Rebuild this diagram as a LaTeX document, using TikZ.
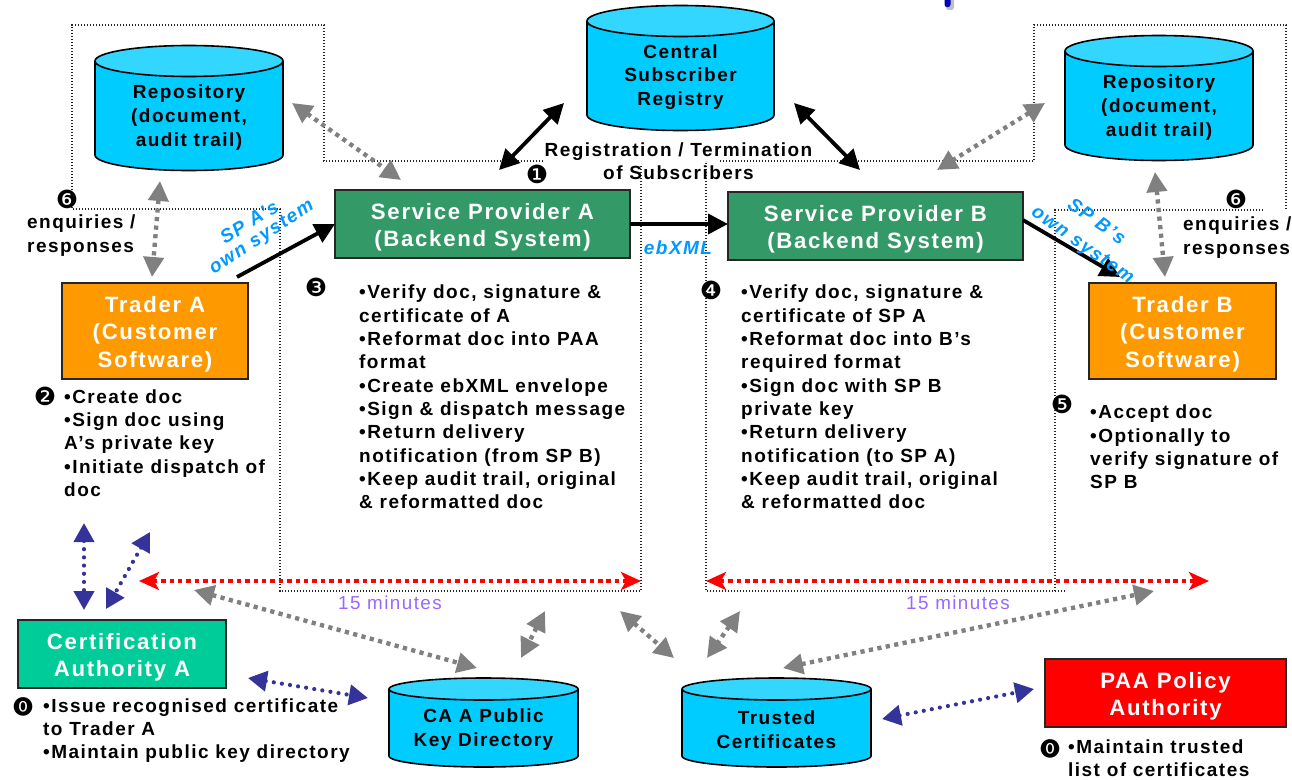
\documentclass[tikz,border=0pt]{standalone}
\usepackage{fontspec}
\setmainfont{Liberation Sans}[LetterSpace=7.7]
\newfontfamily\numfont{DejaVu Sans}
\newfontfamily\zerofont{Noto Sans CJK JP}
\usetikzlibrary{arrows.meta}
\definecolor{cylbody}{HTML}{00CCFF}
\definecolor{cyltop}{HTML}{33D6FF}
\definecolor{spgreen}{HTML}{339966}
\definecolor{traderor}{HTML}{FF9900}
\definecolor{cagreen}{HTML}{00CC99}
\definecolor{linkblue}{HTML}{0099FF}
\definecolor{navy}{HTML}{333399}
\definecolor{lilac}{HTML}{9966FF}
\definecolor{arrgray}{HTML}{808080}
\newcommand{\boxtop}{\rule{0pt}{22pt}}
\tikzset{
  x=1pt,y=-1pt,
  frameline/.style={line width=1.3pt,black!85,dash pattern=on 1.3pt off 1.7pt},
  cylshape/.style={line width=1.6pt,draw=black},
  cyltext/.style={font=\fontsize{19}{23.6}\selectfont\bfseries,align=center,inner sep=0pt,outer sep=0pt},
  boxbase/.style={draw=black!85,line width=1.6pt,inner sep=0pt,outer sep=0pt,align=center,text=white,font=\fontsize{22.2}{27.3}\selectfont\bfseries},
  body/.style={font=\fontsize{19}{23.3}\selectfont\bfseries,align=left,inner sep=0pt,anchor=west},
  marker/.style={font=\fontsize{25}{25}\selectfont\numfont,inner sep=0pt},
  zeromarker/.style={font=\fontsize{20}{20}\selectfont\zerofont,inner sep=0pt},
  sideways/.style={font=\fontsize{19}{23}\selectfont\bfseries\itshape,text=linkblue,inner sep=0pt},
  minutes/.style={font=\fontsize{18.8}{20}\selectfont,text=lilac,inner sep=0pt},
  blackarrow/.style={line width=3.8pt,draw=black},
  blacktwo/.style={blackarrow,{Triangle[length=20pt,width=20pt]}-{Triangle[length=20pt,width=20pt]}},
  blackone/.style={blackarrow,-{Triangle[length=20pt,width=20pt]}},
  grayarrow/.style={draw=arrgray,line width=4.4pt,dash pattern=on 4.2pt off 4.4pt,{Triangle[length=20pt,width=20pt]}-{Triangle[length=20pt,width=20pt]}},
  bluearrow/.style={draw=navy,line width=4.2pt,line cap=round,dash pattern=on 0pt off 8.2pt,{Triangle[length=19pt,width=20pt]}-{Triangle[length=19pt,width=20pt]}},
  redarrow/.style={draw=red,line width=4.2pt,dash pattern=on 4.5pt off 3.9pt,{Stealth[length=20pt,width=18pt,inset=5pt]}-{Stealth[length=20pt,width=18pt,inset=5pt]}},
}
% name, x1, x2, ellipse centre y, body end y, ry, text centre y, text
\newcommand{\cylinderdb}[8]{%
  \pgfmathsetmacro{\cylrx}{(#3-#2)/2}%
  \pgfmathsetmacro{\cylcx}{(#3+#2)/2}%
  \fill[cylbody] (#2,#4) -- (#2,#5) arc[start angle=180,end angle=360,x radius=\cylrx pt,y radius=#6 pt] -- (#3,#4) -- cycle;
  \draw[cylshape,fill=cyltop] (\cylcx,#4) ellipse[x radius=\cylrx pt,y radius=#6 pt];
  \draw[cylshape] (#2,#4) -- (#2,#5) arc[start angle=180,end angle=360,x radius=\cylrx pt,y radius=#6 pt] -- (#3,#4);
  \node[cyltext] (#1) at (\cylcx,#7) {#8};
}
\begin{document}
\begin{tikzpicture}
\useasboundingbox (0,0) rectangle (1292,779);
% stray mark at the top edge
\fill[black!25,rounded corners=2.5pt] (946,-4) rectangle (954,10);
\fill[blue!70!black,rounded corners=2.5pt] (944.5,-4) rectangle (950.5,7);
% dotted system frames
\draw[frameline] (543,161) -- (324,161) -- (324,25) -- (72,25) -- (72,209) -- (280,209) -- (280,591) -- (641,591) -- (641,166);
\draw[frameline] (720,161) -- (1034,161) -- (1034,25) -- (1286,25) -- (1286,210);
\draw[frameline] (1263,210) -- (1055,210) -- (1055,591);
\draw[frameline] (1065,591) -- (706,591) -- (706,161);
% cylinders
\cylinderdb{repoa}{95}{283}{61}{155}{15.5}{117.5}{Repository\\(document,\\audit trail)}
\cylinderdb{central}{587}{774}{21}{115}{15.5}{77}{Central\\Subscriber\\Registry}
\cylinderdb{repob}{1065}{1253}{51}{145}{15.5}{107.5}{Repository\\(document,\\audit trail)}
\cylinderdb{cadir}{389}{578}{689}{756}{11}{729.5}{CA A Public\\Key Directory}
\cylinderdb{trusted}{682}{871}{689}{756}{11}{729.5}{Trusted\\Certificates}
% boxes
\node[boxbase,fill=spgreen,minimum width=295pt,minimum height=68pt] (spa) at (482.5,224) {\boxtop Service Provider A\\(Backend System)};
\node[boxbase,fill=spgreen,minimum width=295pt,minimum height=68pt] (spb) at (875.5,226) {\boxtop Service Provider B\\(Backend System)};
\node[boxbase,fill=traderor,minimum width=186pt,minimum height=96pt] (tra) at (155,331) {\boxtop Trader A\\(Customer\\Software)};
\node[boxbase,fill=traderor,minimum width=187pt,minimum height=96pt] (trb) at (1182.5,331) {\boxtop Trader B\\(Customer\\Software)};
\node[boxbase,fill=cagreen,minimum width=208pt,minimum height=68pt] (caa) at (122,654) {\boxtop Certification\\Authority A};
\node[boxbase,fill=red,minimum width=241pt,minimum height=68pt] (paa) at (1165.5,693) {\boxtop PAA Policy\\Authority};
% free ends of connectors
\coordinate (a1) at (499,170); \coordinate (a2) at (564,103);
\coordinate (b1) at (794,103); \coordinate (b2) at (860,170);
\coordinate (c1) at (237,277); \coordinate (c2) at (1023,220); \coordinate (c3) at (1120,277);
\coordinate (d1) at (292,103); \coordinate (d2) at (401,180);
\coordinate (d3) at (160,181); \coordinate (d4) at (152,277);
\coordinate (d5) at (1045,103); \coordinate (d6) at (937,170);
\coordinate (d7) at (1155,172); \coordinate (d8) at (1165,277);
\coordinate (e1) at (194,590); \coordinate (e2) at (477,668);
\coordinate (e3) at (545,611); \coordinate (e4) at (521,658);
\coordinate (e5) at (620,611); \coordinate (e6) at (674,658);
\coordinate (e7) at (740,611); \coordinate (e8) at (707,658);
\coordinate (e9) at (783,668); \coordinate (e10) at (1154,591);
\coordinate (f1) at (84,523); \coordinate (f2) at (84,610);
\coordinate (f3) at (150,532); \coordinate (f4) at (106,609);
\coordinate (f5) at (248,678); \coordinate (f6) at (368,698);
\coordinate (f7) at (882,719); \coordinate (f8) at (1034,689);
\coordinate (r1) at (139,581); \coordinate (r2) at (641,581);
\coordinate (r3) at (706,581); \coordinate (r4) at (1209,581);
% connectors
\draw[blacktwo] (a1) -- (a2);
\draw[blacktwo] (b1) -- (b2);
\draw[blackone] (spa.east) -- (spa.east -| spb.west);
\draw[blackone] (c1) -- (spa.west);
\draw[blackone] (c2) -- (c3);
\draw[grayarrow] (d1) -- (d2);
\draw[grayarrow] (d3) -- (d4);
\draw[grayarrow] (d5) -- (d6);
\draw[grayarrow] (d7) -- (d8);
\draw[grayarrow] (e1) -- (e2);
\draw[grayarrow] (e3) -- (e4);
\draw[grayarrow] (e5) -- (e6);
\draw[grayarrow] (e7) -- (e8);
\draw[grayarrow] (e9) -- (e10);
\draw[bluearrow] (f1) -- (f2);
\draw[bluearrow] (f3) -- (f4);
\draw[bluearrow] (f5) -- (f6);
\draw[bluearrow] (f7) -- (f8);
\draw[redarrow] (r1) -- (r2);
\draw[redarrow] (r3) -- (r4);
% labels
\node[font=\fontsize{19}{23}\selectfont\bfseries,inner sep=0pt,align=center] (reg) at (678.5,161.5) {Registration / Termination\\of Subscribers};
\node[sideways,rotate=32] (sa1) at (249,222) {SP A's};
\node[sideways,rotate=33] (sa2) at (262,238) {own system};
\node[sideways,rotate=-35] (sb1) at (1097,221) {SP B's};
\node[sideways,rotate=-35] (sb2) at (1082,246) {own system};
\node[sideways] (ebxml) at (678,248) {ebXML};
\node[minutes] (m1) at (390,603) {15 minutes};
\node[minutes] (m2) at (958,603) {15 minutes};
\node[body] (enqa) at (27,235.5) {enquiries /\\responses};
\node[body] (enqb) at (1183,237.5) {enquiries /\\responses};
\node[body] (t2) at (64,443) {•Create doc\\•Sign doc using\\A's private key\\•Initiate dispatch of\\doc};
\node[body] (t3) at (359,397) {•Verify doc, signature \&\\certificate of A\\•Reformat doc into PAA\\format\\•Create ebXML envelope\\•Sign \& dispatch message\\•Return delivery\\notification (from SP B)\\•Keep audit trail, original\\\& reformatted doc};
\node[body] (t4) at (741,397) {•Verify doc, signature \&\\certificate of SP A\\•Reformat doc into B's\\required format\\•Sign doc with SP B\\private key\\•Return delivery\\notification (to SP A)\\•Keep audit trail, original\\\& reformatted doc};
\node[body] (t5) at (1090,447) {•Accept doc\\•Optionally to\\verify signature of\\SP B};
\node[body] (t0a) at (43,730.5) {•Issue recognised certificate\\to Trader A\\•Maintain public key directory};
\node[body] (t0b) at (1068,758) {•Maintain trusted\\list of certificates};
% step markers
\node[marker] (n6a) at (67,199) {❻};
\node[marker] (n1) at (537,174) {❶};
\node[marker] (n3) at (316,287) {❸};
\node[marker] (n2) at (45,396) {❷};
\node[marker] (n4) at (711,290) {❹};
\node[marker] (n5) at (1062,404) {❺};
\node[marker] (n6b) at (1236,199) {❻};
\node[zeromarker] (n0a) at (23,707) {⓿};
\node[zeromarker] (n0b) at (1050,749) {⓿};
\end{tikzpicture}
\end{document}
